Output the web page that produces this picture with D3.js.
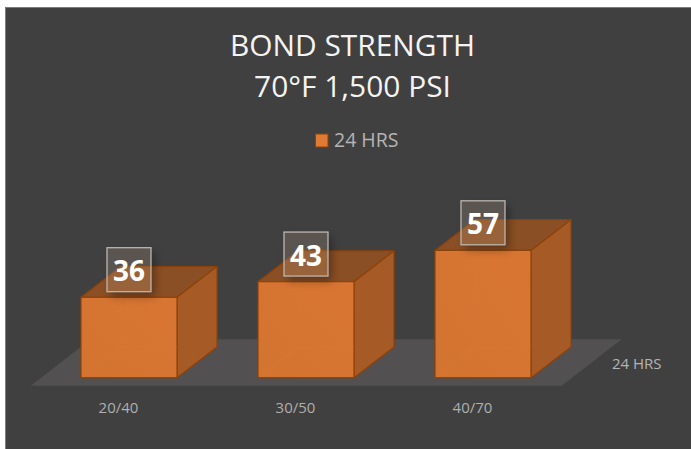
<!DOCTYPE html>
<html><head><meta charset="utf-8">
<script src="https://cdnjs.cloudflare.com/ajax/libs/d3/7.8.5/d3.min.js"></script>
<style>html,body{margin:0;padding:0;background:#fff}svg{display:block}text{font-family:"Open Sans",sans-serif}</style>
</head><body><svg id="c" width="691" height="449"></svg>
<script>
const categories = ["20/40", "30/50", "40/70"];
const values = [36, 43, 57];
const seriesName = "24 HRS";
const titleLines = ["BOND STRENGTH", "70°F 1,500 PSI"];

const W = 691, H = 449, base = 377.7, dx = 40, dy = 30.7;
const svg = d3.select("#c");
const defs = svg.append("defs");
const g1 = defs.append("linearGradient").attr("id","front").attr("x1",0).attr("x2",1).attr("y1",1).attr("y2",0);
g1.append("stop").attr("offset",0).attr("stop-color","#d47431");
g1.append("stop").attr("offset",1).attr("stop-color","#d87533");
defs.append("filter").attr("id","blur").attr("x","-40%").attr("y","-40%").attr("width","180%").attr("height","180%")
  .append("feGaussianBlur").attr("stdDeviation",4);
defs.append("clipPath").attr("id","outside").append("path").attr("clip-rule","evenodd")
  .attr("d","M-80,-80H100V100H-80ZM-22,-22V22H22V-22Z");

svg.append("rect").attr("x",5).attr("y",7).attr("width",W-5).attr("height",H-7).attr("fill","#404040");
svg.append("path").attr("d",`M5.5,${H}V7.5H${W}`).attr("fill","none").attr("stroke","#7c7c7c").attr("stroke-width",1);

const x = d3.scaleBand().domain(categories).range([40.5,571.5]).paddingInner(81/177).paddingOuter(40.5/177);
const y = d3.scaleLinear().domain([0,60]).range([base, base-134]);

// floor
svg.append("polygon").attr("points",[[30.7,385.7],[561.7,385.7],[621.7,339.3],[90.7,339.3]].join(" ")).attr("fill","#525050");

const rows = categories.map((c,i)=>({c,v:values[i]}));
const bars = svg.append("g").selectAll("g").data(rows).join("g");
const edge = "#8f4207";
function pts(a){return a.map(p=>p.join(",")).join(" ");}
bars.each(function(d){
  const g = d3.select(this), l = x(d.c), r = l + x.bandwidth(), t = y(d.v), b = y(0);
  g.append("polygon").attr("points",pts([[l,t],[r,t],[r+dx,t-dy],[l+dx,t-dy]]))
    .attr("fill","#8a4f25").attr("stroke",edge).attr("stroke-width",1.2).attr("stroke-linejoin","round");
  g.append("polygon").attr("points",pts([[r,t],[r+dx,t-dy],[r+dx,b-dy],[r,b]]))
    .attr("fill","#a65b27").attr("stroke",edge).attr("stroke-width",1.2).attr("stroke-linejoin","round");
  g.append("rect").attr("x",l).attr("y",t).attr("width",r-l).attr("height",b-t)
    .attr("fill","url(#front)").attr("stroke",edge).attr("stroke-width",1.2);
  // hidden edges seen through the translucent front face
  g.append("path").attr("d",`M${l+dx},${t}V${b-dy}H${r}M${l+dx},${b-dy}L${l+3},${b-2}`)
    .attr("fill","none").attr("stroke","#dc7931").attr("stroke-width",.8).attr("stroke-opacity",.7);
});

// data labels
const labels = svg.append("g").selectAll("g").data(rows).join("g")
  .attr("transform",d=>`translate(${x(d.c)+x.bandwidth()/2},${y(d.v)-27.6})`);
labels.append("g").attr("clip-path","url(#outside)")
  .append("rect").attr("x",-18).attr("y",-17).attr("width",44).attr("height",44).attr("fill","#000").attr("opacity",.32).attr("filter","url(#blur)");
labels.append("rect").attr("x",-22).attr("y",-22).attr("width",44).attr("height",44)
  .attr("fill","#e8c4a8").attr("fill-opacity",.16).attr("stroke","#bdb6b0").attr("stroke-width",1.3);
labels.append("text").text(d=>d.v).attr("text-anchor","middle").attr("y",11.5).attr("font-size",28).attr("font-weight",700).attr("fill","#fff");

// category axis
const axis = svg.append("g").attr("transform",`translate(-10.5,399)`)
  .call(d3.axisBottom(x).tickSize(0).tickPadding(0));
axis.select(".domain").remove();
axis.selectAll("text").attr("font-size",15).attr("fill","#aeaeae").style("font-family",'"Open Sans",sans-serif').attr("dy","0.9em").attr("y",0);

// depth-axis label
svg.append("text").text(seriesName).attr("x",612).attr("y",368.5).attr("font-size",15).attr("fill","#b4b4b4");

// title
svg.selectAll(".title").data(titleLines).join("text").attr("class","title").text(d=>d)
  .attr("x",352.5).attr("y",(d,i)=>56+i*41).attr("text-anchor","middle").attr("font-size",29.9).attr("fill","#f4f4f4");

// legend
svg.append("rect").attr("x",315.5).attr("y",134).attr("width",12.5).attr("height",13).attr("fill","#df7b34").attr("stroke",edge).attr("stroke-width",1);
svg.append("text").text(seriesName).attr("x",334).attr("y",147).attr("font-size",19.5).attr("fill","#b4b4b4");
</script></body></html>
